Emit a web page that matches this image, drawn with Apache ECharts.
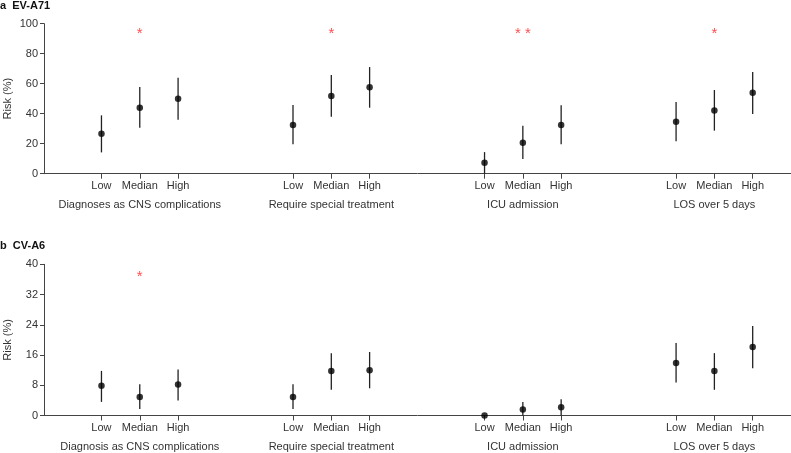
<!DOCTYPE html>
<html>
<head>
<meta charset="utf-8">
<script src="https://cdn.jsdelivr.net/npm/echarts@6/dist/echarts.min.js"></script>
<style>html,body{margin:0;padding:0;background:#fff}#c{width:791px;height:453px}</style>
</head>
<body>
<div id="c"></div>
<script>
const levels = ['Low', 'Median', 'High'];
const outcomesA = ['Diagnoses as CNS complications', 'Require special treatment', 'ICU admission', 'LOS over 5 days'];
const outcomesB = ['Diagnosis as CNS complications', 'Require special treatment', 'ICU admission', 'LOS over 5 days'];
const riskA  = [26.7, 44.0, 50.0,  32.4, 51.8, 57.6,  7.3, 20.7, 32.4,  34.7, 42.2, 54.0];
const lowerA = [14.2, 30.7, 36.0,  19.6, 38.0, 44.0,  0.0,  9.8, 19.6,  21.6, 28.7, 39.8];
const upperA = [38.9, 57.8, 64.0,  45.8, 65.8, 71.1, 14.4, 32.0, 45.6,  47.8, 55.8, 67.8];
const riskB  = [7.9, 4.9, 8.2,  4.9, 11.8, 12.0,  0.0, 1.6, 2.2,  13.9, 11.8, 18.1];
const lowerB = [3.6, 1.7, 4.0,  1.7,  6.8,  7.2,  0.0, 0.0, 0.0,   8.7,  6.8, 12.5];
const upperB = [11.8, 8.3, 12.2, 8.3, 16.5, 16.8, 0.0, 3.6, 4.3,  19.2, 16.5, 23.7];
const starsA = ['*', '*', '* *', '*'];
const starsB = ['*', '', '', ''];
const starLevelA = 94.7;
const starLevelB = 37.2;

const GAP = 5;
const pos = (g, i) => g * GAP + i;
const levelPositions = [];
outcomesA.forEach((_, g) => levels.forEach((_, i) => levelPositions.push(pos(g, i))));
const groupPositions = outcomesA.map((_, g) => pos(g, 1));

function pts(vals) {
  return vals.map((v, k) => [levelPositions[k], v]);
}
function bars(lo, hi) {
  return lo.map((v, k) => [levelPositions[k], v, hi[k]]);
}
function stars(arr, lvl) {
  return arr.map((s, g) => ({ value: [groupPositions[g], lvl], label: { formatter: s } })).filter((d, g) => arr[g] !== '');
}

const txt = '#333';
const axisColor = '#444';
const FONT = 'Liberation Sans, Arial, sans-serif';

function xAxes(gridIndex, outcomes) {
  return [{
    type: 'value', gridIndex, min: -1.5, max: 18, position: 'bottom',
    axisLine: { show: true, onZero: false, lineStyle: { color: axisColor, width: 1 } },
    axisTick: { show: true, customValues: levelPositions, length: 5, lineStyle: { color: axisColor } },
    axisLabel: { show: true, customValues: levelPositions, margin: 7, fontSize: 11, color: txt, fontFamily: FONT,
      formatter: v => levels[Math.round(v) % GAP] },
    splitLine: { show: false }
  }, {
    type: 'value', gridIndex, min: -1.5, max: 18, position: 'bottom',
    axisLine: { show: false, onZero: false }, axisTick: { show: false },
    axisLabel: { show: true, customValues: groupPositions, margin: 26, fontSize: 11, color: txt, fontFamily: FONT,
      formatter: v => outcomes[Math.round((v - 1) / GAP)] },
    splitLine: { show: false }
  }];
}
function yAxis(gridIndex, max, interval, gap) {
  return {
    type: 'value', gridIndex, min: 0, max, interval, position: 'left',
    name: 'Risk (%)', nameLocation: 'middle', nameGap: gap, nameRotate: 90, nameMoveOverlap: false,
    nameTextStyle: { fontSize: 11, color: txt, fontFamily: FONT },
    axisLine: { show: true, onZero: false, lineStyle: { color: axisColor, width: 1 } },
    axisTick: { show: true, length: 4, lineStyle: { color: axisColor } },
    axisLabel: { margin: 6, fontSize: 11, color: txt, fontFamily: FONT },
    splitLine: { show: false }
  };
}
function errSeries(xi, yi, data) {
  return {
    type: 'custom', xAxisIndex: xi, yAxisIndex: yi, data, clip: false,
    renderItem: (params, api) => {
      const a = api.coord([api.value(0), api.value(1)]);
      const b = api.coord([api.value(0), api.value(2)]);
      return { type: 'line', shape: { x1: a[0], y1: a[1], x2: b[0], y2: b[1] }, style: { stroke: '#222', lineWidth: 1.3 } };
    },
    z: 2
  };
}
function ptSeries(xi, yi, data) {
  return { type: 'scatter', xAxisIndex: xi, yAxisIndex: yi, data, symbol: 'circle', symbolSize: 6.5,
    itemStyle: { color: '#000' }, z: 3, clip: false };
}
function starSeries(xi, yi, data) {
  return { type: 'scatter', xAxisIndex: xi, yAxisIndex: yi, data, symbolSize: 0, z: 4,
    label: { show: true, position: 'inside', offset: [0, 2], fontSize: 15, color: '#ff2020', fontFamily: FONT } };
}

const chart = echarts.init(document.getElementById('c'), null, { renderer: 'canvas' });
chart.setOption({
  animation: false,
  backgroundColor: '#fff',
  title: [
    { text: 'a  EV-A71', left: 0, top: 0, padding: 0, textStyle: { fontSize: 11, fontWeight: 'bold', color: '#111', fontFamily: FONT } },
    { text: 'b  CV-A6', left: 0, top: 240, padding: 0, textStyle: { fontSize: 11, fontWeight: 'bold', color: '#111', fontFamily: FONT } }
  ],
  grid: [
    { left: 44, right: 0, top: 23.7, height: 150, containLabel: false, outerBoundsMode: 'none' },
    { left: 44, right: 0, top: 264.3, height: 151.2, containLabel: false, outerBoundsMode: 'none' }
  ],
  xAxis: [...xAxes(0, outcomesA), ...xAxes(1, outcomesB)],
  yAxis: [yAxis(0, 100, 20, 30.5), yAxis(1, 40, 8, 30.5)],
  series: [
    errSeries(0, 0, bars(lowerA, upperA)),
    ptSeries(0, 0, pts(riskA)),
    starSeries(0, 0, stars(starsA, starLevelA)),
    errSeries(2, 1, bars(lowerB, upperB)),
    ptSeries(2, 1, pts(riskB)),
    starSeries(2, 1, stars(starsB, starLevelB))
  ]
});
</script>
</body>
</html>
